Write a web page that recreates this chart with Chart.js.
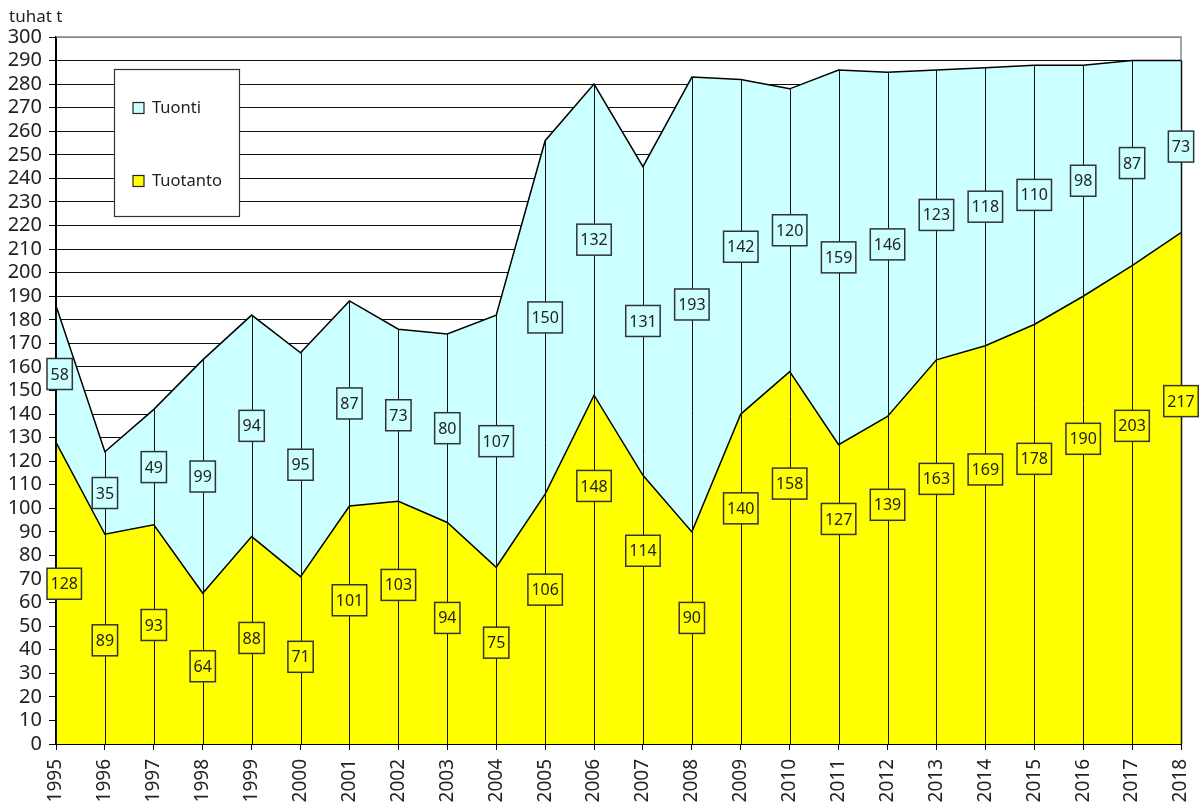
<!DOCTYPE html>
<html>
<head>
<meta charset="utf-8">
<script src="https://cdn.jsdelivr.net/npm/chart.js@4.4.1/dist/chart.umd.min.js"></script>
<style>
  html, body { margin: 0; padding: 0; background: #fff; }
  #wrap { width: 1200px; height: 810px; position: relative; }
</style>
</head>
<body>
<div id="wrap"><canvas id="areaChart"></canvas></div>
<script>
const years = ["1995", "1996", "1997", "1998", "1999", "2000", "2001", "2002", "2003", "2004", "2005", "2006",
  "2007", "2008", "2009", "2010", "2011", "2012", "2013", "2014", "2015", "2016", "2017", "2018"];
const tuotanto = [128, 89, 93, 64, 88, 71, 101, 103, 94, 75, 106, 148, 114, 90, 140, 158, 127, 139, 163, 169, 178, 190, 203, 217];
const tuonti = [58, 35, 49, 99, 94, 95, 87, 73, 80, 107, 150, 132, 131, 193, 142, 120, 159, 146, 123, 118, 110, 98, 87, 73];
const yMin = 0;
const yMax = 300;
const yStep = 10;
const unitLabel = "tuhat t";

// Excel had the yellow labels lifted above the middle of the area, by this much (axis units)
const tuotantoLabelLift = [4, -0.5, 4, 1, 1, 1.5, 10.5, 16, 6.5, 5.5, 12.5, 35.5, 25, 8.5, 30, 31.5, 32, 32, 31, 32, 32, 34.5, 33.5, 37];

const FONT = "'Noto Sans', 'DejaVu Sans', sans-serif";
const yellow = "#ffff00";
const cyan = "#ccffff";

const extras = {
  id: "extras",
  beforeDatasetsDraw(chart) {
    const ctx = chart.ctx;
    const a = chart.chartArea;
    // grey plot frame top + right
    ctx.save();
    ctx.strokeStyle = "#888";
    ctx.lineWidth = 1.5;
    ctx.beginPath();
    ctx.moveTo(a.left, a.top);
    ctx.lineTo(a.right, a.top);
    ctx.lineTo(a.right, a.bottom);
    ctx.stroke();
    ctx.restore();
  },
  afterDatasetsDraw(chart) {
    const ctx = chart.ctx;
    const xs = chart.scales.x;
    const ys = chart.scales.y;
    const a = chart.chartArea;

    // drop lines from axis up to the top of the stack
    ctx.save();
    ctx.strokeStyle = "#111";
    for (let i = 0; i < years.length; i++) {
      const x = Math.round(xs.getPixelForValue(i)) + 0.5;
      ctx.lineWidth = (i === years.length - 1) ? 1.5 : 1;
      ctx.beginPath();
      ctx.moveTo(x, ys.getPixelForValue(0));
      ctx.lineTo(x, ys.getPixelForValue(tuotanto[i] + tuonti[i]));
      ctx.stroke();
    }
    ctx.restore();

    // value boxes
    ctx.save();
    ctx.font = "16px " + FONT;
    ctx.textAlign = "center";
    ctx.textBaseline = "middle";
    function box(txt, x, y, fill) {
      const w = ctx.measureText(txt).width + 7;
      const h = 31;
      let left = x - w / 2;
      if (left < a.left - 9) left = a.left - 9;
      ctx.fillStyle = fill;
      ctx.fillRect(left, y - h / 2, w, h);
      ctx.strokeStyle = "#333";
      ctx.lineWidth = 1.5;
      ctx.strokeRect(left, y - h / 2, w, h);
      ctx.fillStyle = "#222";
      ctx.fillText(txt, left + w / 2, y + 1);
    }
    for (let i = 0; i < years.length; i++) {
      const x = xs.getPixelForValue(i);
      box(String(tuotanto[i]), x, ys.getPixelForValue(tuotanto[i] / 2 + tuotantoLabelLift[i]), yellow);
      box(String(tuonti[i]), x, ys.getPixelForValue(tuotanto[i] + tuonti[i] / 2), cyan);
    }
    ctx.restore();
  },
  afterDraw(chart) {
    const ctx = chart.ctx;
    const a = chart.chartArea;
    ctx.save();
    // unit text
    ctx.fillStyle = "#222";
    ctx.font = "17px " + FONT;
    ctx.textAlign = "left";
    ctx.textBaseline = "middle";
    ctx.fillText(unitLabel, 9, 17);

    // legend box
    const lx = a.left + 58, ly = a.top + 32, lw = 125, lh = 147;
    ctx.fillStyle = "#fff";
    ctx.fillRect(lx, ly, lw, lh);
    ctx.strokeStyle = "#333";
    ctx.lineWidth = 1.2;
    ctx.strokeRect(lx + 0.5, ly + 0.5, lw, lh);
    const items = [
      { text: "Tuonti", color: cyan, y: ly + 39 },
      { text: "Tuotanto", color: yellow, y: ly + 112 }
    ];
    ctx.font = "16.5px " + FONT;
    items.forEach(it => {
      ctx.fillStyle = it.color;
      ctx.fillRect(lx + 19, it.y - 5.5, 11, 11);
      ctx.strokeStyle = "#222";
      ctx.lineWidth = 1.2;
      ctx.strokeRect(lx + 19, it.y - 5.5, 11, 11);
      ctx.fillStyle = "#222";
      ctx.fillText(it.text, lx + 38, it.y);
    });
    ctx.restore();
  }
};

new Chart(document.getElementById("areaChart"), {
  type: "line",
  data: {
    labels: years,
    datasets: [
      {
        label: "Tuotanto",
        data: tuotanto,
        backgroundColor: yellow,
        borderColor: "#000",
        borderWidth: 1.5,
        fill: "origin",
        pointRadius: 0,
        tension: 0
      },
      {
        label: "Tuonti",
        data: tuonti,
        backgroundColor: cyan,
        borderColor: "#000",
        borderWidth: 1.5,
        fill: "-1",
        pointRadius: 0,
        tension: 0
      }
    ]
  },
  options: {
    responsive: true,
    maintainAspectRatio: false,
    animation: false,
    layout: { padding: { top: 37, right: 19, left: 0, bottom: 0 } },
    plugins: {
      legend: { display: false },
      tooltip: { enabled: false }
    },
    scales: {
      x: {
        type: "category",
        offset: false,
        grid: { drawOnChartArea: false, drawTicks: true, tickLength: 6, tickColor: "#000", lineWidth: 1 },
        border: { display: true, color: "#000", width: 2 },
        ticks: {
          autoSkip: false,
          maxRotation: 90,
          minRotation: 90,
          padding: 9,
          color: "#222",
          font: { family: FONT, size: 19 }
        },
        afterFit(scale) {
          scale.height = 66;
          scale.paddingLeft = 0;
          scale.paddingRight = 0;
        }
      },
      y: {
        stacked: true,
        min: yMin,
        max: yMax,
        grid: {
          color: ctx => (ctx.tick && ctx.tick.value === yMax) ? "#888" : "#111",
          lineWidth: 1,
          tickLength: 7,
          tickColor: "#000"
        },
        border: { display: true, color: "#000", width: 2 },
        ticks: {
          stepSize: yStep,
          autoSkip: false,
          padding: 7,
          color: "#222",
          font: { family: FONT, size: 20 }
        },
        afterFit(scale) { scale.width = 56; }
      }
    }
  },
  plugins: [extras]
});
</script>
</body>
</html>
